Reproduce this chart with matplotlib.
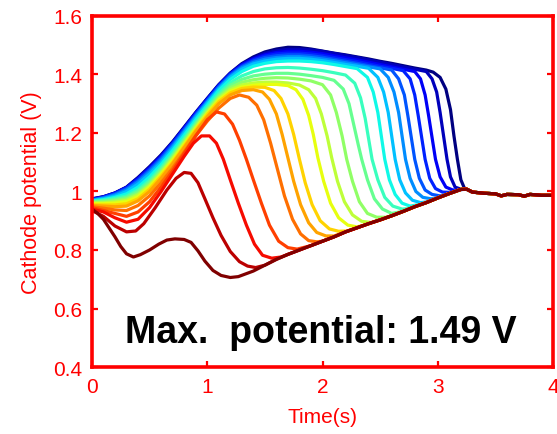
import matplotlib
matplotlib.use("Agg")
import matplotlib.pyplot as plt

plt.rcParams['font.family'] = ['Liberation Sans', 'DejaVu Sans']

x_ticks = [0, 1, 2, 3, 4]
x_tick_labels = ['0', '1', '2', '3', '4']
y_ticks = [0.4, 0.6, 0.8, 1.0, 1.2, 1.4, 1.6]
y_tick_labels = ['0.4', '0.6', '0.8', '1', '1.2', '1.4', '1.6']
x_label = 'Time(s)'
y_label = 'Cathode potential (V)'
note = 'Max.  potential: 1.49 V'

# common relaxation path that every trace settles onto after its drop
baseline = [(1.30, 0.712), (1.40, 0.728), (1.50, 0.748), (1.60, 0.768), (1.70, 0.785),
            (1.80, 0.800), (1.90, 0.815), (2.00, 0.830), (2.10, 0.845), (2.20, 0.862),
            (2.30, 0.876), (2.40, 0.890), (2.50, 0.903), (2.60, 0.917), (2.70, 0.932),
            (2.80, 0.948), (2.90, 0.962), (3.00, 0.978), (3.10, 0.993), (3.20, 1.007),
            (3.25, 1.008), (3.30, 0.998), (3.40, 0.994), (3.50, 0.992), (3.55, 0.985),
            (3.60, 0.990), (3.70, 0.989), (3.75, 0.984), (3.80, 0.990), (3.90, 0.987),
            (4.00, 0.987)]

trace_00 = [(0.00, 0.940), (0.05, 0.925), (0.10, 0.905), (0.15, 0.875), (0.20, 0.845),
            (0.25, 0.812), (0.30, 0.787), (0.36, 0.776), (0.42, 0.784), (0.50, 0.800),
            (0.58, 0.820), (0.65, 0.834), (0.72, 0.838), (0.80, 0.836), (0.86, 0.826),
            (0.92, 0.797), (0.98, 0.762), (1.05, 0.730), (1.12, 0.713), (1.20, 0.706),
            (1.27, 0.709)]
trace_01 = [(0.00, 0.935), (0.10, 0.915), (0.20, 0.882), (0.30, 0.862), (0.38, 0.865),
            (0.45, 0.890), (0.55, 0.945), (0.65, 1.005), (0.73, 1.045), (0.80, 1.065),
            (0.86, 1.062), (0.92, 1.030), (0.98, 0.975), (1.05, 0.910), (1.12, 0.850),
            (1.20, 0.795), (1.28, 0.760), (1.35, 0.745), (1.42, 0.740)]
trace_02 = [(0.00, 0.940), (0.10, 0.930), (0.20, 0.910), (0.30, 0.895), (0.40, 0.905),
            (0.50, 0.945), (0.60, 1.000), (0.70, 1.060), (0.80, 1.120), (0.88, 1.165),
            (0.95, 1.190), (1.02, 1.190), (1.08, 1.165), (1.14, 1.110), (1.20, 1.040),
            (1.27, 0.960), (1.34, 0.885), (1.41, 0.820), (1.48, 0.782), (1.56, 0.772),
            (1.64, 0.776)]
trace_03 = [(0.00, 0.945), (0.10, 0.935), (0.20, 0.925), (0.30, 0.915), (0.40, 0.930),
            (0.50, 0.965), (0.60, 1.015), (0.70, 1.070), (0.80, 1.130), (0.90, 1.190),
            (1.00, 1.245), (1.08, 1.272), (1.15, 1.265), (1.22, 1.230), (1.28, 1.175),
            (1.34, 1.110), (1.40, 1.040), (1.47, 0.960), (1.54, 0.885), (1.62, 0.830),
            (1.70, 0.808), (1.78, 0.803)]
trace_04 = [(0.00, 0.948), (0.10, 0.943), (0.20, 0.937), (0.30, 0.935), (0.40, 0.952),
            (0.50, 0.985), (0.60, 1.030), (0.70, 1.080), (0.80, 1.135), (0.90, 1.190),
            (1.00, 1.240), (1.10, 1.285), (1.20, 1.318), (1.28, 1.330), (1.36, 1.322),
            (1.43, 1.295), (1.49, 1.245), (1.55, 1.165), (1.61, 1.075), (1.67, 0.985),
            (1.74, 0.905), (1.81, 0.855), (1.88, 0.832), (1.95, 0.828)]
trace_05 = [(0.00, 0.952), (0.10, 0.950), (0.20, 0.948), (0.30, 0.950), (0.40, 0.968),
            (0.50, 1.000), (0.60, 1.045), (0.70, 1.095), (0.80, 1.150), (0.90, 1.205),
            (1.00, 1.255), (1.10, 1.300), (1.20, 1.330), (1.30, 1.345), (1.40, 1.348),
            (1.48, 1.340), (1.54, 1.315), (1.60, 1.265), (1.65, 1.195), (1.70, 1.115),
            (1.75, 1.035), (1.81, 0.955), (1.88, 0.893), (1.95, 0.860), (2.03, 0.848),
            (2.10, 0.848)]
trace_06 = [(0.00, 0.955), (0.10, 0.954), (0.20, 0.954), (0.30, 0.958), (0.40, 0.975),
            (0.50, 1.008), (0.60, 1.052), (0.70, 1.100), (0.80, 1.155), (0.90, 1.210),
            (1.00, 1.262), (1.10, 1.307), (1.20, 1.337), (1.30, 1.352), (1.40, 1.357),
            (1.50, 1.356), (1.58, 1.345), (1.64, 1.318), (1.70, 1.265), (1.75, 1.195),
            (1.80, 1.110), (1.85, 1.030), (1.91, 0.955), (1.98, 0.900), (2.06, 0.872),
            (2.14, 0.864), (2.21, 0.865)]
trace_07 = [(0.00, 0.958), (0.10, 0.958), (0.20, 0.960), (0.30, 0.965), (0.40, 0.982),
            (0.50, 1.015), (0.60, 1.058), (0.70, 1.106), (0.80, 1.160), (0.90, 1.214),
            (1.00, 1.266), (1.10, 1.312), (1.20, 1.342), (1.30, 1.357), (1.40, 1.363),
            (1.50, 1.366), (1.60, 1.366), (1.70, 1.362), (1.77, 1.348), (1.83, 1.315),
            (1.88, 1.260), (1.92, 1.195), (1.96, 1.115), (2.01, 1.035), (2.07, 0.960),
            (2.14, 0.910), (2.22, 0.885), (2.30, 0.879)]
trace_08 = [(0.00, 0.960), (0.10, 0.961), (0.20, 0.964), (0.30, 0.970), (0.40, 0.988),
            (0.50, 1.020), (0.60, 1.063), (0.70, 1.112), (0.80, 1.165), (0.90, 1.219),
            (1.00, 1.270), (1.10, 1.317), (1.20, 1.348), (1.30, 1.364), (1.40, 1.371),
            (1.50, 1.374), (1.60, 1.374), (1.70, 1.371), (1.80, 1.364), (1.88, 1.348),
            (1.94, 1.318), (1.99, 1.265), (2.04, 1.190), (2.08, 1.115), (2.13, 1.035),
            (2.19, 0.965), (2.26, 0.920), (2.34, 0.898), (2.42, 0.894)]
trace_09 = [(0.00, 0.962), (0.10, 0.964), (0.20, 0.968), (0.30, 0.975), (0.40, 0.993),
            (0.50, 1.025), (0.60, 1.068), (0.70, 1.117), (0.80, 1.170), (0.90, 1.224),
            (1.00, 1.275), (1.10, 1.322), (1.20, 1.355), (1.30, 1.373), (1.40, 1.382),
            (1.50, 1.387), (1.60, 1.389), (1.70, 1.388), (1.80, 1.384), (1.90, 1.378),
            (2.00, 1.365), (2.07, 1.330), (2.12, 1.270), (2.17, 1.190), (2.21, 1.110),
            (2.26, 1.035), (2.32, 0.965), (2.39, 0.925), (2.47, 0.912), (2.55, 0.912)]
trace_10 = [(0.00, 0.964), (0.10, 0.967), (0.20, 0.972), (0.30, 0.980), (0.40, 1.000),
            (0.50, 1.032), (0.60, 1.075), (0.70, 1.123), (0.80, 1.176), (0.90, 1.230),
            (1.00, 1.281), (1.10, 1.328), (1.20, 1.363), (1.30, 1.383), (1.40, 1.395),
            (1.50, 1.401), (1.60, 1.404), (1.70, 1.404), (1.80, 1.401), (1.90, 1.396),
            (2.00, 1.390), (2.10, 1.380), (2.18, 1.350), (2.23, 1.300), (2.27, 1.230),
            (2.31, 1.160), (2.34, 1.110), (2.39, 1.040), (2.45, 0.975), (2.52, 0.940),
            (2.60, 0.925), (2.67, 0.930)]
trace_11 = [(0.00, 0.966), (0.10, 0.970), (0.20, 0.976), (0.30, 0.985), (0.40, 1.006),
            (0.50, 1.039), (0.60, 1.082), (0.70, 1.130), (0.80, 1.182), (0.90, 1.236),
            (1.00, 1.287), (1.10, 1.335), (1.20, 1.372), (1.30, 1.395), (1.40, 1.410),
            (1.50, 1.419), (1.60, 1.423), (1.70, 1.424), (1.80, 1.422), (1.90, 1.418),
            (2.00, 1.413), (2.10, 1.406), (2.20, 1.398), (2.28, 1.370), (2.33, 1.320),
            (2.37, 1.250), (2.40, 1.180), (2.43, 1.110), (2.48, 1.040), (2.54, 0.980),
            (2.61, 0.950), (2.69, 0.940), (2.76, 0.942)]
trace_12 = [(0.00, 0.968), (0.10, 0.972), (0.20, 0.980), (0.30, 0.992), (0.40, 1.015),
            (0.50, 1.050), (0.60, 1.092), (0.70, 1.140), (0.80, 1.192), (0.90, 1.245),
            (1.00, 1.295), (1.10, 1.345), (1.20, 1.383), (1.30, 1.410), (1.40, 1.428),
            (1.50, 1.438), (1.60, 1.444), (1.70, 1.446), (1.80, 1.446), (1.90, 1.444),
            (2.00, 1.440), (2.10, 1.434), (2.20, 1.427), (2.30, 1.420), (2.39, 1.390),
            (2.44, 1.340), (2.48, 1.270), (2.51, 1.190), (2.54, 1.110), (2.58, 1.040),
            (2.63, 0.990), (2.69, 0.960), (2.76, 0.950), (2.83, 0.955)]
trace_13 = [(0.00, 0.969), (0.10, 0.975), (0.20, 0.984), (0.30, 1.000), (0.40, 1.025),
            (0.50, 1.060), (0.60, 1.100), (0.70, 1.148), (0.80, 1.200), (0.90, 1.252),
            (1.00, 1.302), (1.10, 1.350), (1.20, 1.390), (1.30, 1.418), (1.40, 1.436),
            (1.50, 1.446), (1.60, 1.452), (1.70, 1.455), (1.80, 1.455), (1.90, 1.452),
            (2.00, 1.447), (2.10, 1.441), (2.20, 1.434), (2.30, 1.428), (2.40, 1.421),
            (2.48, 1.390), (2.53, 1.340), (2.57, 1.270), (2.60, 1.190), (2.63, 1.110),
            (2.67, 1.040), (2.72, 0.995), (2.78, 0.970), (2.85, 0.962), (2.92, 0.965)]
trace_14 = [(0.00, 0.970), (0.10, 0.977), (0.20, 0.988), (0.30, 1.005), (0.40, 1.032),
            (0.50, 1.067), (0.60, 1.107), (0.70, 1.154), (0.80, 1.205), (0.90, 1.257),
            (1.00, 1.306), (1.10, 1.354), (1.20, 1.394), (1.30, 1.423), (1.40, 1.441),
            (1.50, 1.452), (1.60, 1.458), (1.70, 1.461), (1.80, 1.461), (1.90, 1.458),
            (2.00, 1.453), (2.10, 1.447), (2.20, 1.440), (2.30, 1.433), (2.40, 1.426),
            (2.50, 1.419), (2.57, 1.390), (2.62, 1.340), (2.66, 1.270), (2.69, 1.190),
            (2.72, 1.110), (2.76, 1.045), (2.81, 1.000), (2.87, 0.980), (2.94, 0.975),
            (3.00, 0.978)]
trace_15 = [(0.00, 0.971), (0.10, 0.979), (0.20, 0.991), (0.30, 1.009), (0.40, 1.037),
            (0.50, 1.073), (0.60, 1.113), (0.70, 1.160), (0.80, 1.210), (0.90, 1.261),
            (1.00, 1.310), (1.10, 1.358), (1.20, 1.398), (1.30, 1.427), (1.40, 1.446),
            (1.50, 1.458), (1.60, 1.464), (1.70, 1.467), (1.80, 1.467), (1.90, 1.464),
            (2.00, 1.459), (2.10, 1.452), (2.20, 1.445), (2.30, 1.438), (2.40, 1.430),
            (2.50, 1.423), (2.60, 1.415), (2.66, 1.385), (2.71, 1.330), (2.74, 1.260),
            (2.77, 1.185), (2.80, 1.110), (2.84, 1.045), (2.89, 1.005), (2.95, 0.990),
            (3.02, 0.985), (3.08, 0.990)]
trace_16 = [(0.00, 0.972), (0.10, 0.980), (0.20, 0.993), (0.30, 1.012), (0.40, 1.041),
            (0.50, 1.077), (0.60, 1.117), (0.70, 1.164), (0.80, 1.214), (0.90, 1.265),
            (1.00, 1.313), (1.10, 1.361), (1.20, 1.401), (1.30, 1.430), (1.40, 1.450),
            (1.50, 1.463), (1.60, 1.470), (1.70, 1.473), (1.80, 1.473), (1.90, 1.470),
            (2.00, 1.465), (2.10, 1.458), (2.20, 1.451), (2.30, 1.444), (2.40, 1.436),
            (2.50, 1.428), (2.60, 1.421), (2.70, 1.413), (2.76, 1.385), (2.80, 1.330),
            (2.83, 1.260), (2.86, 1.185), (2.89, 1.110), (2.93, 1.045), (2.98, 1.010),
            (3.04, 0.998), (3.10, 0.997), (3.16, 1.002)]
trace_17 = [(0.00, 0.973), (0.10, 0.981), (0.20, 0.994), (0.30, 1.013), (0.40, 1.044),
            (0.50, 1.080), (0.60, 1.120), (0.70, 1.166), (0.80, 1.216), (0.90, 1.267),
            (1.00, 1.315), (1.10, 1.362), (1.20, 1.402), (1.30, 1.433), (1.40, 1.453),
            (1.50, 1.467), (1.60, 1.475), (1.70, 1.479), (1.80, 1.479), (1.90, 1.476),
            (2.00, 1.471), (2.10, 1.464), (2.20, 1.457), (2.30, 1.450), (2.40, 1.442),
            (2.50, 1.434), (2.60, 1.426), (2.70, 1.418), (2.80, 1.410), (2.85, 1.385),
            (2.89, 1.330), (2.92, 1.260), (2.95, 1.185), (2.98, 1.110), (3.02, 1.050),
            (3.07, 1.015), (3.13, 1.005), (3.19, 1.006)]
trace_18 = [(0.00, 0.974), (0.10, 0.982), (0.20, 0.995), (0.30, 1.014), (0.40, 1.046),
            (0.50, 1.083), (0.60, 1.123), (0.70, 1.168), (0.80, 1.218), (0.90, 1.269),
            (1.00, 1.317), (1.10, 1.364), (1.20, 1.404), (1.30, 1.435), (1.40, 1.456),
            (1.50, 1.472), (1.60, 1.481), (1.70, 1.486), (1.80, 1.486), (1.90, 1.484),
            (2.00, 1.479), (2.10, 1.472), (2.20, 1.465), (2.30, 1.458), (2.40, 1.450),
            (2.50, 1.442), (2.60, 1.434), (2.70, 1.426), (2.80, 1.418), (2.90, 1.410),
            (2.95, 1.385), (2.99, 1.340), (3.02, 1.270), (3.05, 1.190), (3.08, 1.110),
            (3.11, 1.050), (3.15, 1.015), (3.20, 1.008)]
trace_19 = [(0.00, 0.975), (0.10, 0.982), (0.20, 0.995), (0.30, 1.015), (0.40, 1.048),
            (0.50, 1.085), (0.60, 1.125), (0.70, 1.170), (0.80, 1.220), (0.90, 1.270),
            (1.00, 1.318), (1.10, 1.365), (1.20, 1.405), (1.30, 1.437), (1.40, 1.460),
            (1.50, 1.477), (1.60, 1.487), (1.70, 1.493), (1.80, 1.492), (1.90, 1.487),
            (2.00, 1.480), (2.10, 1.473), (2.20, 1.467), (2.30, 1.460), (2.40, 1.453),
            (2.50, 1.445), (2.60, 1.438), (2.70, 1.430), (2.80, 1.422), (2.90, 1.415),
            (2.96, 1.408), (3.02, 1.390), (3.07, 1.350), (3.11, 1.280), (3.14, 1.190),
            (3.17, 1.110), (3.20, 1.040), (3.23, 1.012)]

traces = [trace_00, trace_01, trace_02, trace_03, trace_04, trace_05, trace_06,
          trace_07, trace_08, trace_09, trace_10, trace_11, trace_12, trace_13,
          trace_14, trace_15, trace_16, trace_17, trace_18, trace_19]

axis_red = (1.0, 0.0, 0.0)

fig = plt.figure(figsize=(5.57, 4.35), dpi=100)
ax = fig.add_axes([0.165, 0.154, 0.828, 0.807])

cmap = plt.get_cmap('jet')
n = len(traces)
# later cycles first, so the early (red) cycles sit on top
for i in reversed(range(n)):
    pts = list(traces[i])
    t_end = pts[-1][0]
    pts += [p for p in baseline if p[0] > t_end + 0.03]
    t, v = zip(*pts)
    ax.plot(t, v, color=cmap(1.0 - i / (n - 1)), lw=2.3,
            solid_joinstyle='round', solid_capstyle='round')

ax.set_xlim(0, 4)
ax.set_ylim(0.4, 1.6)
ax.set_xticks(x_ticks)
ax.set_xticklabels(x_tick_labels)
ax.set_yticks(y_ticks)
ax.set_yticklabels(y_tick_labels)

for s in ax.spines.values():
    s.set_color(axis_red)
    s.set_linewidth(2.6)
ax.tick_params(axis='both', which='both', direction='in', top=True, right=True,
               length=4, width=1.6, color=axis_red, labelcolor=axis_red,
               labelsize=15, pad=7)

ax.set_xlabel(x_label, color=axis_red, fontsize=15, labelpad=8)
ax.set_ylabel(y_label, color=axis_red, fontsize=15.5, labelpad=8)

ax.text(0.29, 0.485, note, fontsize=27, fontweight='bold', color='black',
        ha='left', va='baseline')

fig.savefig('out.png', dpi=100)
